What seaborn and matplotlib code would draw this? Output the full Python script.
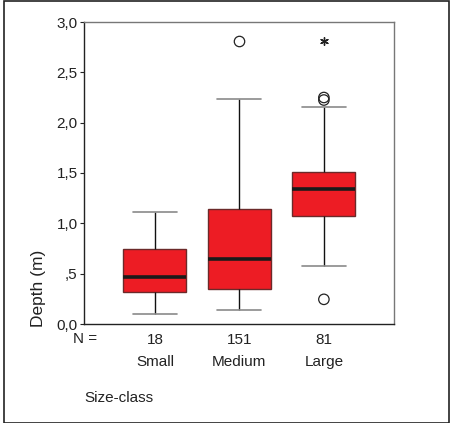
import numpy as np
import pandas as pd
import matplotlib
matplotlib.use("Agg")
import matplotlib.pyplot as plt
from matplotlib.patches import Rectangle
import seaborn as sns

# Size classes and sample sizes
categories = ["Small", "Medium", "Large"]
n_counts = [18, 151, 81]

# Five-number summaries of depth (m): lower whisker, Q1, median, Q3, upper whisker
whisker_low = [0.10, 0.142, 0.58]
q1 = [0.315, 0.345, 1.075]
median = [0.465, 0.642, 1.337]
q3 = [0.742, 1.139, 1.513]
whisker_high = [1.112, 2.237, 2.158]

# Outliers (circles) and extreme values (asterisks)
outlier_class = ["Medium", "Large", "Large", "Large"]
outlier_depth = [2.81, 2.25, 2.225, 0.245]
extreme_class = ["Large"]
extreme_depth = [2.81]

yticks = [0.0, 0.5, 1.0, 1.5, 2.0, 2.5, 3.0]
ytick_labels = ["0,0", ",5", "1,0", "1,5", "2,0", "2,5", "3,0"]

rows = []
for i, c in enumerate(categories):
    for v in (whisker_low[i], q1[i], median[i], q3[i], whisker_high[i]):
        rows.append({"Size-class": c, "Depth": v})
df = pd.DataFrame(rows)
out_df = pd.DataFrame({"Size-class": outlier_class, "Depth": outlier_depth})
ext_df = pd.DataFrame({"Size-class": extreme_class, "Depth": extreme_depth})

sns.set_style("white")
plt.rcParams["font.family"] = ["Liberation Sans", "DejaVu Sans"]
plt.rcParams["font.size"] = 11

fig = plt.figure(figsize=(4.5, 4.23), dpi=100)
ax = fig.add_axes([84 / 450, 1 - 324 / 423, 310 / 450, 302 / 423])

sns.boxplot(
    data=df, x="Size-class", y="Depth", order=categories, ax=ax,
    color="#ed1c24", width=0.745, whis=np.inf, saturation=1,
    boxprops=dict(facecolor="#ed1c24", edgecolor="#6b2a2a", linewidth=1.0),
    medianprops=dict(color="#1a1a1a", linewidth=2.6),
    whiskerprops=dict(color="#111111", linewidth=1.0),
    capprops=dict(color="#8a8a8a", linewidth=1.2),
    capwidths=0.52,
)

sns.stripplot(
    data=out_df, x="Size-class", y="Depth", order=categories, ax=ax,
    jitter=False, marker="o", size=7.5, color="white",
    edgecolor="#222222", linewidth=0.9,
)
ax.collections[-1].set_facecolor("none")

sns.stripplot(
    data=ext_df, x="Size-class", y="Depth", order=categories, ax=ax,
    jitter=False, marker=(6, 2, 0), size=5.5, color="#222222",
    linewidth=1.0,
)

ax.set_xlim(-0.84, 2.83)
ax.set_ylim(0, 3.0)
ax.set_yticks(yticks)
ax.set_yticklabels(ytick_labels, fontsize=11, color="#222222")
ax.tick_params(axis="y", direction="out", length=3, width=0.8, color="#222222",
               left=True, pad=1.5)
ax.set_xticks(range(len(categories)))
ax.set_xticklabels([f"{n}\n{c}" for n, c in zip(n_counts, categories)],
                   fontsize=11, color="#222222", linespacing=1.75)
ax.tick_params(axis="x", length=0, pad=6.5)
ax.set_xlabel("")
ax.set_ylabel("")

for side in ("left", "bottom"):
    ax.spines[side].set_color("#222222")
    ax.spines[side].set_linewidth(1.0)
for side in ("top", "right"):
    ax.spines[side].set_color("#777777")
    ax.spines[side].set_linewidth(1.0)

fig.text(85 / 450, 1 - 339 / 423, "N =", ha="center", va="center",
         fontsize=11, color="#222222")
fig.text(84 / 450, 1 - 398 / 423, "Size-class", ha="left", va="center",
         fontsize=11, color="#222222")
fig.text(38 / 450, 1 - 288 / 423, "Depth (m)", ha="center", va="center",
         rotation=90, fontsize=12.5, color="#222222")

fig.patches.append(Rectangle((3.5 / 450, 0.5 / 423), 445.5 / 450, 421.5 / 423,
                             transform=fig.transFigure, fill=False,
                             edgecolor="#222222", linewidth=1.2))

fig.savefig("out.png", dpi=100)
